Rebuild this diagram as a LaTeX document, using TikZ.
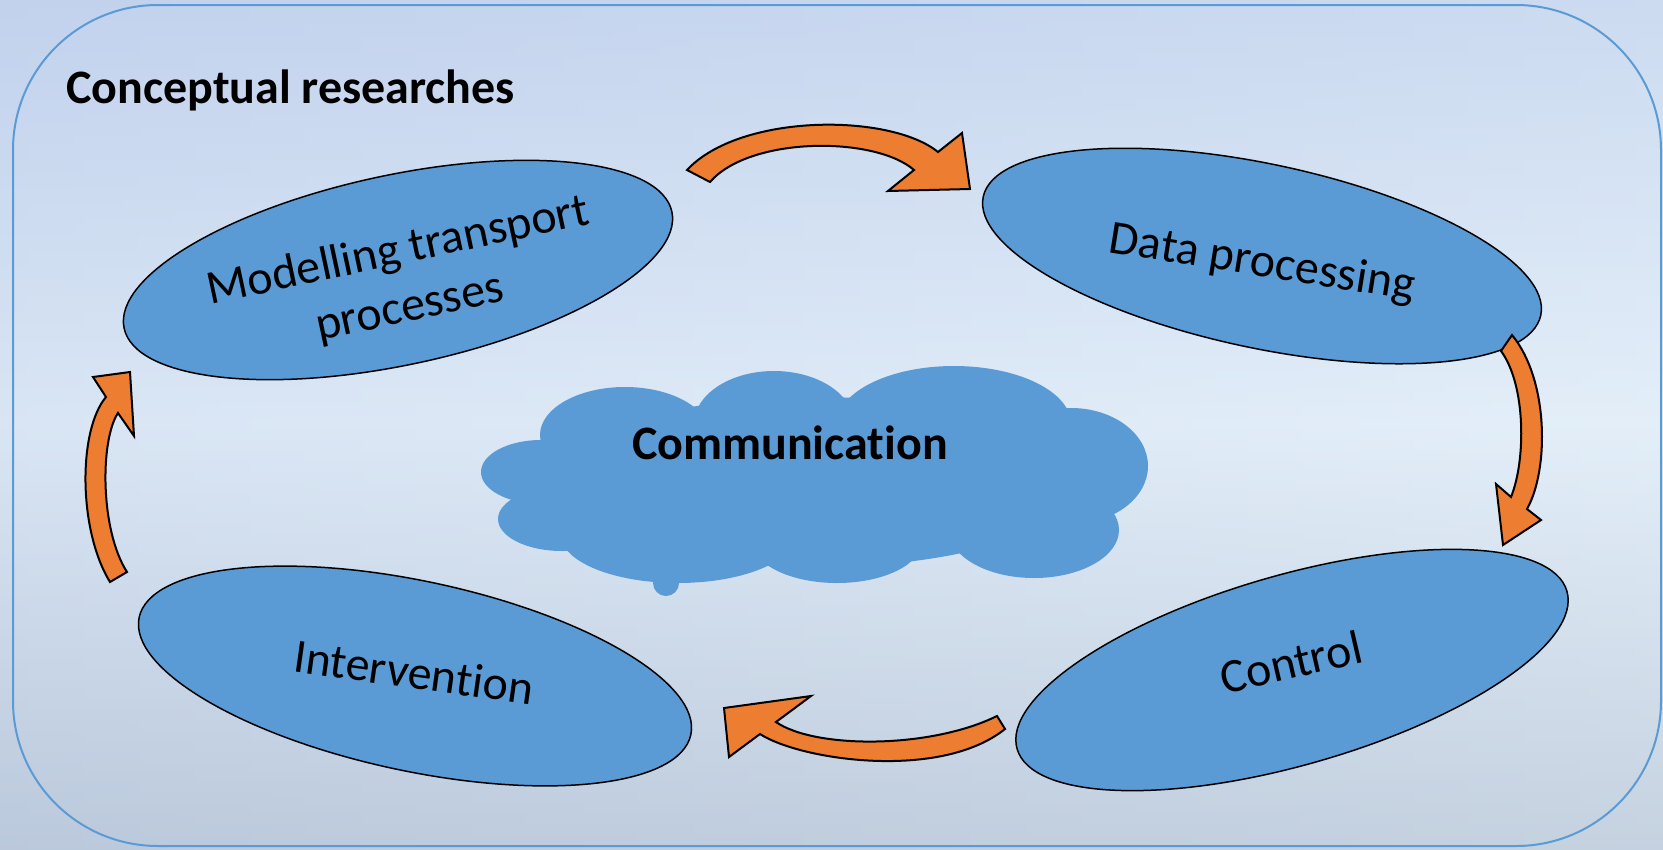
\documentclass[tikz,border=0pt]{standalone}
\usepackage{fontspec}
\setmainfont{Carlito}[Ligatures=NoCommon]
\usetikzlibrary{shapes.geometric}
\definecolor{ellblue}{HTML}{5B9BD5}
\definecolor{arrorange}{HTML}{ED7D31}
\definecolor{framblue}{HTML}{5B9BD5}
\definecolor{bgtop}{HTML}{C2D2ED}
\definecolor{bgmid}{HTML}{E3EEF8}
\definecolor{bgbot}{HTML}{B8C5D5}
\definecolor{bglight}{HTML}{E4F0FA}
\tikzset{
  ellnode/.style={ellipse, draw=black, line width=1.5pt, fill=ellblue, inner sep=0pt},
  elltext/.style={align=center, inner sep=0pt, font=\fontsize{48}{58}\selectfont},
  blockarrow/.style={draw=black, line width=2pt, fill=arrorange, line join=miter},
  cloudpart/.style={fill=ellblue, draw=none},
}
\begin{document}
\begin{tikzpicture}[x=1pt, y=-1pt]
\useasboundingbox (0,0) rectangle (1663,849);
% background
\shade[top color=bgtop, bottom color=bgbot, middle color=bgmid] (0,0) rectangle (1663,849);
\shade[left color=bgtop, right color=bglight, opacity=0.3] (0,0) rectangle (1663,849);
% frame
\draw[framblue, line width=2pt, rounded corners=145pt] (13,5) rectangle (1661,846);
\node[anchor=west, inner sep=0pt, font=\fontsize{48}{58}\selectfont\bfseries] (title) at (66,90) {Conceptual researches};

% cloud
\fill[cloudpart] (816,482) ellipse [x radius=265, y radius=85];
\fill[cloudpart] (625,435) ellipse [x radius=85, y radius=48];
\fill[cloudpart] (774,424) ellipse [x radius=80, y radius=53];
\fill[cloudpart] (954,424) ellipse [x radius=117, y radius=58];
\fill[cloudpart] (1071,466) ellipse [x radius=77, y radius=58];
\fill[cloudpart] (1034,530) ellipse [x radius=85, y radius=48];
\fill[cloudpart] (837,541) ellipse [x radius=85, y radius=42];
\fill[cloudpart] (678,535) ellipse [x radius=117, y radius=48];
\fill[cloudpart] (541,472) ellipse [x radius=60, y radius=32];
\fill[cloudpart] (562,519) ellipse [x radius=64, y radius=32];
\fill[cloudpart] (666,583) circle [radius=13];
\node[font=\fontsize{48}{58}\selectfont\bfseries] (comm) at (790,443) {Communication};

% ellipses
\node[ellnode, minimum width=560pt, minimum height=190pt, rotate=12] (model) at (398,270) {};
\node[ellnode, minimum width=570pt, minimum height=184pt, rotate=-12] (data) at (1262,256) {};
\node[ellnode, minimum width=564pt, minimum height=190pt, rotate=-12] (interv) at (415,676) {};
\node[ellnode, minimum width=572pt, minimum height=190pt, rotate=16] (control) at (1292,670) {};
\node[elltext, rotate=12] (modeltxt) at (404,280) {Modelling transport\\processes};
\node[elltext, rotate=-9] (datatxt) at (1262,264) {Data processing};
\node[elltext, rotate=-8] (intervtxt) at (414,672) {Intervention};
\node[elltext, rotate=13] (controltxt) at (1291,662) {Control};

% arrows
% top: modelling -> data processing
\draw[blockarrow] (687,170) .. controls (740,113) and (890,113) .. (938,152)
  -- (962,133) -- (970,189) -- (888,191) -- (914,170)
  .. controls (875,136) and (750,136) .. (710,182) -- cycle;
% right: data processing -> control
\draw[blockarrow] (1512,335) .. controls (1549,380) and (1549,470) .. (1527,509)
  -- (1541,520) -- (1503,545) -- (1496,484) -- (1511,497)
  .. controls (1526,460) and (1526,385) .. (1501,351) -- cycle;
% bottom: control -> intervention
\draw[blockarrow] (1005,729) .. controls (940,781) and (800,760) .. (760,734)
  -- (729,757) -- (724,708) -- (811,696) -- (776,722)
  .. controls (815,749) and (930,749) .. (997,716) -- cycle;
% left: intervention -> modelling
\draw[blockarrow] (110,582) .. controls (78,530) and (78,430) .. (106,397)
  -- (93,377) -- (130,372) -- (134,436) -- (118,413)
  .. controls (100,440) and (100,530) .. (127,572) -- cycle;
\end{tikzpicture}
\end{document}
